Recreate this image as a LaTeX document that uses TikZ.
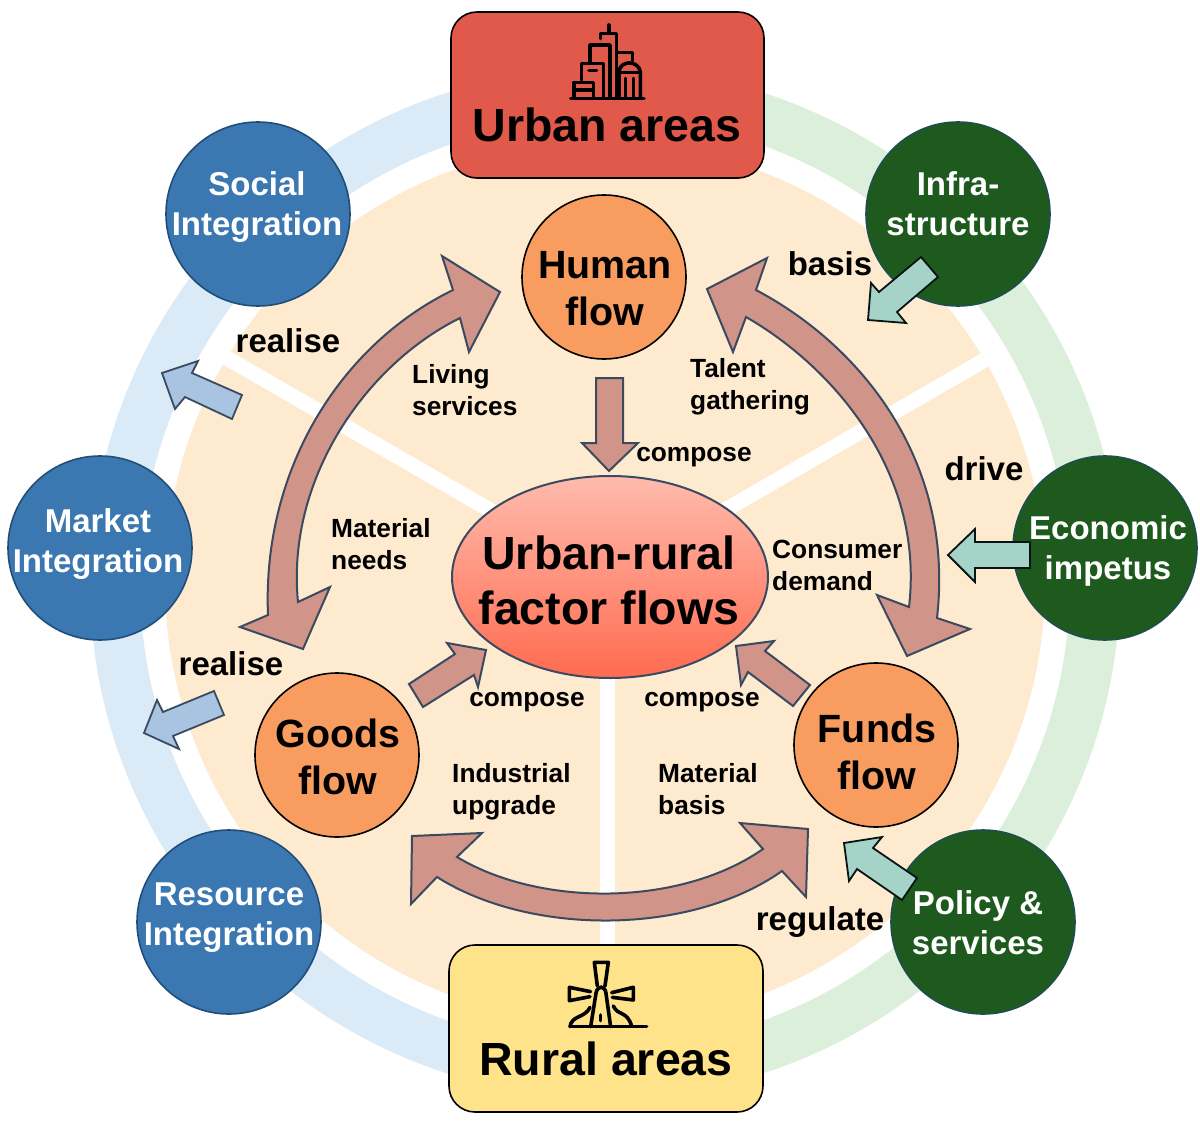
\documentclass[tikz,border=0pt]{standalone}
\usepackage{fontspec}
\setmainfont{Liberation Sans}
\usetikzlibrary{shapes.geometric}
\definecolor{ringblue}{HTML}{DAEAF7}
\definecolor{ringgreen}{HTML}{DCEFDA}
\definecolor{disc}{HTML}{FEEACF}
\definecolor{urbanfill}{HTML}{E0594B}
\definecolor{ruralfill}{HTML}{FFE38B}
\definecolor{bluefill}{HTML}{3B78B1}
\definecolor{blueline}{HTML}{1F4E79}
\definecolor{greenfill}{HTML}{1E5A1E}
\definecolor{greenline}{HTML}{1F4E50}
\definecolor{flowfill}{HTML}{F99C60}
\definecolor{bigfill}{HTML}{D09488}
\definecolor{slate}{HTML}{3A4A60}
\definecolor{paleblue}{HTML}{A9C4E0}
\definecolor{palegreen}{HTML}{A5D3C8}
\definecolor{ctop}{HTML}{FFBBAD}
\definecolor{cbot}{HTML}{FF6B50}
\newcommand{\fs}[2]{\fontsize{#1pt}{#2pt}\selectfont\bfseries}
\tikzset{
  areabox/.style={draw=black,line width=1.6pt,rounded corners=26pt,inner sep=0pt},
  socialnode/.style={circle,draw=blueline,fill=bluefill,line width=1.6pt,minimum size=184pt,inner sep=0pt},
  drivernode/.style={circle,draw=greenline,fill=greenfill,line width=1.6pt,minimum size=184pt,inner sep=0pt},
  flownode/.style={circle,draw=black,fill=flowfill,line width=1.6pt,minimum size=164pt,inner sep=0pt},
  whitelabel/.style={text=white,align=center,inner sep=0pt,font=\fs{33}{40}},
  flowlabel/.style={text=black,align=center,inner sep=0pt,font=\fs{39.4}{47}},
  biglabel/.style={text=black,align=center,inner sep=0pt,font=\fs{46.5}{55}},
  verb/.style={text=black,inner sep=0pt,font=\fs{33}{38}},
  note/.style={text=black,align=left,anchor=west,inner sep=0pt,font=\fs{26.3}{32}},
  bigarrow/.style={fill=bigfill,draw=slate,line width=2pt,line join=miter},
  bluearrow/.style={fill=paleblue,draw=slate,line width=1.8pt,line join=miter},
  greenarrow/.style={fill=palegreen,draw=black!75!greenline,line width=1.8pt,line join=miter},
  spoke/.style={draw=white,line width=15pt},
  iconline/.style={draw=black,line width=3.6pt,line cap=round,line join=round}
}
\begin{document}
\begin{tikzpicture}[x=1pt,y=-1pt]
\useasboundingbox (0,0) rectangle (1200,1124);
\fill[white] (0,0) rectangle (1200,1124);
\coordinate (hub) at (605,583);
\coordinate (spokehub) at (607.5,578);
\coordinate (spokeS) at (607.5,1030);
\coordinate (spokeW) at (213,350);
\coordinate (spokeE) at (1002,350);
% rings
\begin{scope}
\clip (0,0) rectangle (605,1124);
\fill[ringblue,even odd rule] (hub) circle[radius=515pt] (hub) circle[radius=465pt];
\end{scope}
\begin{scope}
\clip (605,0) rectangle (1200,1124);
\fill[ringgreen,even odd rule] (hub) circle[radius=515pt] (hub) circle[radius=465pt];
\end{scope}
\fill[disc] (hub) circle[radius=440pt];
% spokes
\draw[spoke] (spokehub) -- (spokeS);
\draw[spoke] (spokehub) -- (spokeW);
\draw[spoke] (spokehub) -- (spokeE);

% big curved arrows
\draw[bigarrow] (500,292) -- (442,256) -- (453,290) .. controls (340,345) and (262,470) .. (268,615) -- (240,627) -- (303,649) -- (330,587) -- (298,602) .. controls (286,480) and (365,365) .. (460,318) -- (469,352) -- cycle;
\draw[bigarrow] (707,289) -- (767,258) -- (756,290) .. controls (860,345) and (955,460) .. (937,618) -- (970,629) -- (907,656) -- (877,595) -- (909,607) .. controls (925,470) and (830,365) .. (746,317) -- (733,352) -- cycle;
\draw[bigarrow] (412,836) -- (482,833) -- (457,857) .. controls (540,907) and (680,907) .. (763,849) -- (740,823) -- (808,829) -- (806,897) -- (782,871) .. controls (690,936) and (530,936) .. (437,877) -- (411,904) -- cycle;

% centre
\node[ellipse,minimum width=316pt,minimum height=202pt,inner sep=0pt,draw=slate,line width=2pt,top color=ctop,bottom color=cbot] (core) at (610,577) {};
\node[biglabel] (coret) at (609,580) {Urban-rural\\factor flows};

% flow circles
\node[flownode] (human) at (604,277) {};
\node[flownode] (goods) at (337,755) {};
\node[flownode] (funds) at (876,745) {};
\node[flowlabel] (humant) at (605,289) {Human\\flow};
\node[flowlabel] (goodst) at (338,757) {Goods\\flow};
\node[flowlabel] (fundst) at (877,752) {Funds\\flow};

% compose arrows
\draw[bigarrow] (596,378) -- (623,378) -- (623,443) -- (638,443) -- (609,471) -- (582,443) -- (596,443) -- cycle;
\draw[bigarrow] (409,684) -- (455,654) -- (447,643) -- (486,650) -- (478,687) -- (474,675) -- (423,707) -- cycle;
\draw[bigarrow] (810,685) -- (765,651) -- (774,641) -- (736,646) -- (741,685) -- (748,672) -- (793,706) -- cycle;

% outer circles
\node[socialnode] (social) at (258,214) {};
\node[socialnode] (market) at (100,548) {};
\node[socialnode] (resource) at (229,922) {};
\node[drivernode] (infra) at (958,214) {};
\node[drivernode] (econ) at (1105,548) {};
\node[drivernode] (policy) at (983,922) {};

% pale arrows
\draw[bluearrow] (162,373) -- (198,361) -- (192,373) -- (242,395) -- (232,419) -- (185,397) -- (175,409) -- cycle;
\draw[bluearrow] (144,733) -- (157,700) -- (163,712) -- (214,691) -- (224,715) -- (173,736) -- (179,749) -- cycle;
\draw[greenarrow] (868,320) -- (871,283) -- (879,292) -- (921,257) -- (938,277) -- (897,312) -- (906,323) -- cycle;
\draw[greenarrow] (948,555) -- (975,529) -- (975,542) -- (1030,542) -- (1030,568) -- (975,568) -- (975,582) -- cycle;
\draw[greenarrow] (844,843) -- (882,837) -- (873,848) -- (917,878) -- (902,900) -- (857,869) -- (849,881) -- cycle;

% labels in circles
\node[whitelabel] (sociallab) at (257,207) {Social\\Integration};
\node[whitelabel] (marketlab) at (98,544) {Market\\Integration};
\node[whitelabel] (resourcelab) at (229,918) {Resource\\Integration};
\node[whitelabel] (infralab) at (958,204) {Infra-\\structure};
\node[whitelabel] (econlab) at (1108,551) {Economic\\impetus};
\node[whitelabel] (policylab) at (978,923) {Policy \&\\services};

% boxes
\node[areabox,fill=urbanfill,minimum width=313pt,minimum height=166pt] (urban) at (607.5,95) {};
\node[areabox,fill=ruralfill,minimum width=314pt,minimum height=167pt] (rural) at (606,1028.5) {};
\node[biglabel] (urbant) at (607,125) {Urban areas};
\node[biglabel] (ruralt) at (606,1058.5) {Rural areas};

% city icon
\begin{scope}[shift={(440,0)},x=0.3333pt,y=-0.3333pt]
\draw[iconline] (392,295) -- (612,295);
\draw[iconline] (507,75) -- (507,100);
\draw[iconline] (482,116) -- (482,100) -- (530,100) -- (530,290);
\draw[iconline] (450,188) -- (450,135) -- (510,135) -- (510,290);
\draw[iconline] (530,157) -- (578,157) -- (578,182);
\draw[iconline] (425,240) -- (425,190) -- (490,190) -- (490,290);
\draw[iconline] (447,212) -- (470,212);
\draw[iconline] (402,290) -- (402,247) -- (460,247) -- (460,290);
\draw[iconline] (410,270) -- (455,270);
\draw[iconline] (537,290) -- (537,215) .. controls (540,180) and (595,180) .. (601,215) -- (601,290);
\draw[iconline] (537,218) -- (601,218);
\draw[iconline] (557,235) -- (557,290);
\draw[iconline] (580,235) -- (580,290);
\end{scope}
% windmill icon
\begin{scope}[shift={(440,930)},x=0.3333pt,y=-0.3333pt]
\draw[iconline] (390,290) -- (620,290);
\draw[iconline] (452,290) -- (468,190) .. controls (472,165) and (495,165) .. (498,190) -- (512,290);
\draw[iconline] (472,168) -- (463,97) -- (505,97) -- (495,168);
\draw[iconline] (452,185) -- (388,172) -- (388,212) -- (450,200);
\draw[iconline] (515,188) -- (580,172) -- (580,210) -- (517,202);
\draw[iconline] (482,255) -- (482,272);
\draw[iconline] (390,290) .. controls (395,255) and (435,265) .. (450,232);
\draw[iconline] (520,228) .. controls (535,260) and (560,240) .. (575,288);
\end{scope}

% verb labels
\node[verb] (rl1) at (288,341) {realise};
\node[verb] (rl2) at (231,664) {realise};
\node[verb] (bs) at (830,264) {basis};
\node[verb] (dr) at (984,469) {drive};
\node[verb] (rg) at (820,922) {regulate};
\node[note,anchor=center] (cp1) at (694,457) {compose};
\node[note,anchor=center] (cp2) at (527,702) {compose};
\node[note,anchor=center] (cp3) at (702,702) {compose};
\node[note] (n1) at (412,390) {Living\\services};
\node[note] (n2) at (690,387) {Talent\\gathering};
\node[note] (n3) at (331,544) {Material\\needs};
\node[note] (n4) at (772,565) {Consumer\\demand};
\node[note] (n5) at (452,792) {Industrial\\upgrade};
\node[note] (n6) at (658,789) {Material\\basis};
\end{tikzpicture}
\end{document}
